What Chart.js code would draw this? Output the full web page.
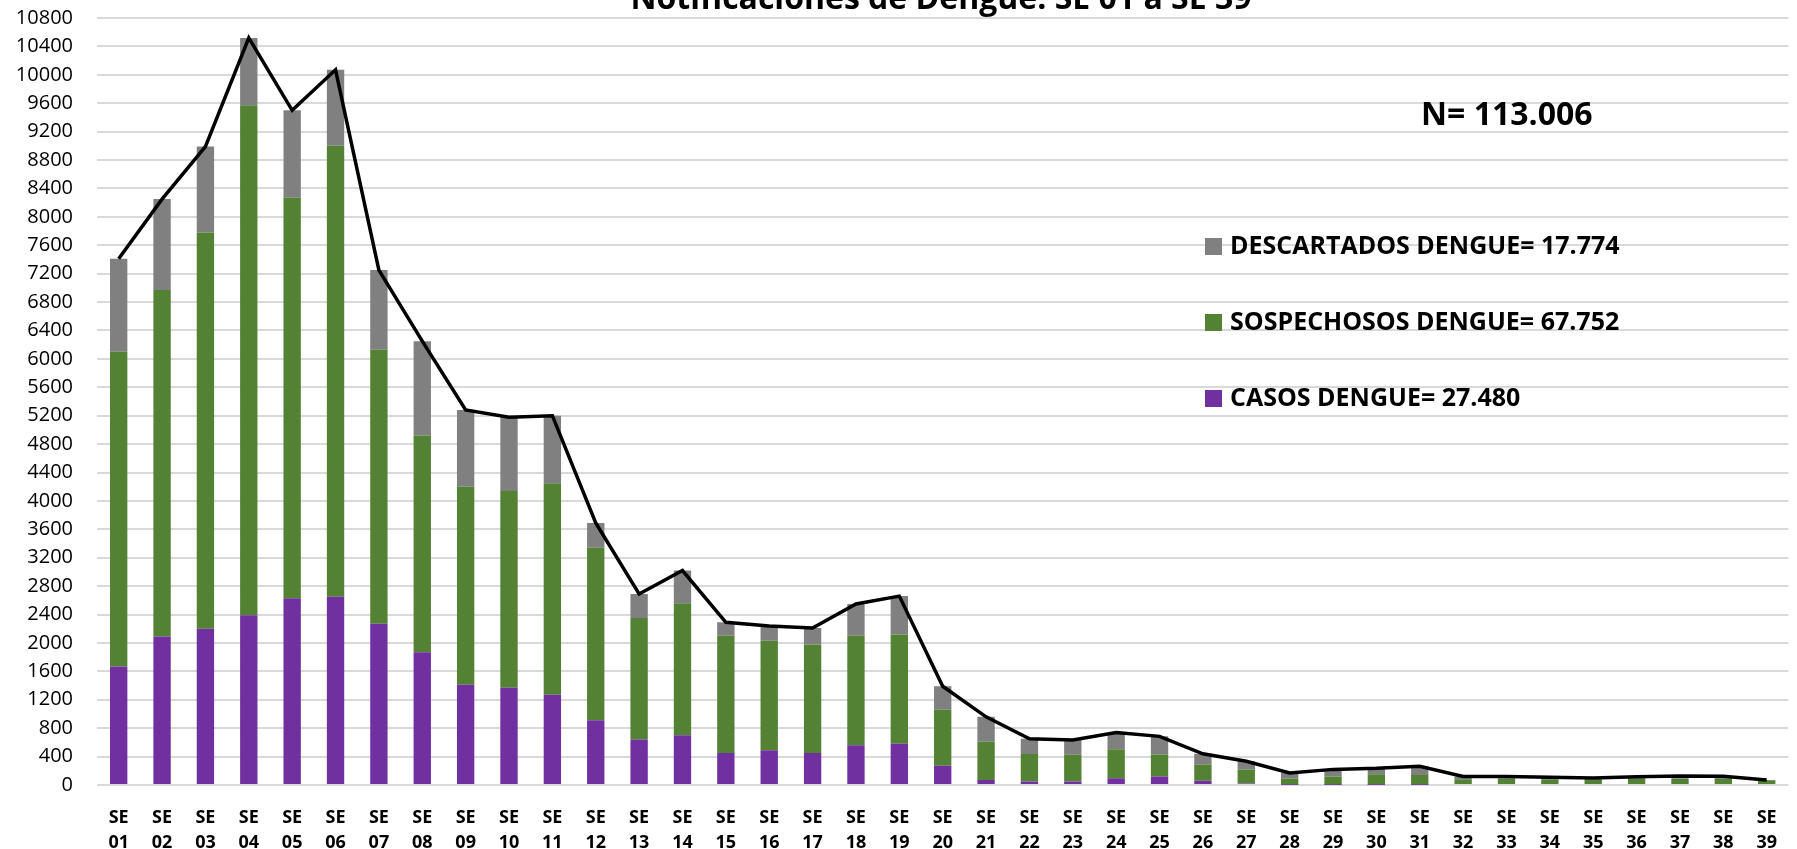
<!DOCTYPE html>
<html>
<head>
<meta charset="utf-8">
<script src="https://cdn.jsdelivr.net/npm/chart.js@4/dist/chart.umd.min.js"></script>
<style>
  html, body { margin: 0; padding: 0; background: #fff; }
  #wrap { position: relative; width: 1797px; height: 849px; }
</style>
</head>
<body>
<div id="wrap"><canvas id="dengueChart"></canvas></div>
<script>
// Semanas epidemiologicas SE 01 .. SE 39
const weeks = ['01','02','03','04','05','06','07','08','09','10','11','12','13','14','15','16','17','18','19','20',
               '21','22','23','24','25','26','27','28','29','30','31','32','33','34','35','36','37','38','39'];

// values
const casos = [1670, 2090, 2200, 2390, 2630, 2650, 2270, 1870, 1410, 1370, 1270, 910, 640, 700, 450, 490, 450, 560, 580, 270,
               70, 50, 50, 95, 120, 60, 20, 5, 5, 5, 5, 0, 0, 0, 0, 0, 0, 0, 0];
const sospechosos = [4430, 4880, 5580, 7180, 5640, 6350, 3860, 3050, 2790, 2770, 2980, 2430, 1710, 1860, 1650, 1540, 1530, 1540, 1540, 790,
                     540, 385, 375, 410, 310, 225, 200, 85, 115, 145, 135, 80, 88, 80, 80, 85, 90, 85, 66];
const descartados = [1310, 1280, 1210, 950, 1230, 1070, 1120, 1330, 1080, 1040, 950, 350, 340, 460, 190, 210, 230, 450, 540, 330,
                     350, 215, 210, 235, 255, 155, 115, 80, 100, 85, 125, 40, 30, 30, 20, 30, 38, 37, 5];

const legendTexts = ['CASOS DENGUE= 27.480', 'SOSPECHOSOS DENGUE= 67.752', 'DESCARTADOS DENGUE= 17.774'];
const titleText = 'Notificaciones de Dengue: SE 01 a SE 39';
const nText = 'N= 113.006';

const colors = ['#7030A0', '#548235', '#808080'];

// total notifications per week (line on top of the stacks)
const totals = weeks.map(function (w, i) { return casos[i] + sospechosos[i] + descartados[i]; });

const FONT = '"Open Sans", "Noto Sans", sans-serif';

// title (cut at the top), N= and the legend inside the plot
const overlayPlugin = {
    id: 'overlay',
    afterDraw(chart) {
        const ctx = chart.ctx;
        ctx.save();
        ctx.fillStyle = '#000';
        ctx.textBaseline = 'alphabetic';
        ctx.textAlign = 'center';
        ctx.font = 'bold 32px ' + FONT;
        ctx.fillText(titleText, 941, 9);

        ctx.textAlign = 'left';
        ctx.textBaseline = 'middle';
        ctx.font = 'bold 32px ' + FONT;
        ctx.fillText(nText, 1421, 116);

        // legend, top to bottom: descartados, sospechosos, casos
        const rows = [2, 1, 0];
        ctx.font = 'bold 25px ' + FONT;
        rows.forEach(function (di, r) {
            const ds = chart.data.datasets[di];
            const y = 246 + r * 76;
            ctx.fillStyle = ds.backgroundColor;
            ctx.fillRect(1205, y - 8, 17, 17);
            ctx.fillStyle = '#000';
            ctx.fillText(ds.label, 1230, y + 1);
        });
        ctx.restore();
    }
};

const ctx = document.getElementById('dengueChart').getContext('2d');
new Chart(ctx, {
    type: 'bar',
    data: {
        labels: weeks.map(function (w) { return ['SE', w]; }),
        datasets: [{
            label: legendTexts[0],
            data: casos,
            backgroundColor: colors[0],
            order: 1
        }, {
            label: legendTexts[1],
            data: sospechosos,
            backgroundColor: colors[1],
            order: 1
        }, {
            label: legendTexts[2],
            data: descartados,
            backgroundColor: colors[2],
            order: 1
        }, {
            type: 'line',
            label: 'Total',
            data: totals,
            borderColor: '#000',
            borderWidth: 3.5,
            pointRadius: 0,
            tension: 0,
            fill: false,
            stack: 'total',
            order: 0
        }]
    },
    options: {
        responsive: true,
        maintainAspectRatio: false,
        animation: false,
        layout: { padding: { top: 18, right: 0, bottom: 0, left: 0 } },
        datasets: {
            bar: { barPercentage: 0.4, categoryPercentage: 1.0 }
        },
        plugins: {
            legend: { display: false },
            title: { display: false },
            tooltip: { enabled: false }
        },
        scales: {
            x: {
                stacked: true,
                grid: { display: false, drawTicks: false },
                border: { display: false },
                ticks: {
                    color: '#000',
                    font: { family: FONT, size: 18, weight: 'bold', lineHeight: 1.39 },
                    padding: 20,
                    maxRotation: 0,
                    autoSkip: false
                },
                afterFit(scale) { scale.height = 64; }
            },
            y: {
                stacked: true,
                min: 0,
                max: 10800,
                grid: { color: '#d9d9d9', lineWidth: 2, drawTicks: true, tickLength: 18, tickColor: 'rgba(0,0,0,0)' },
                border: { display: false },
                ticks: {
                    stepSize: 400,
                    color: '#000',
                    font: { family: FONT, size: 20 },
                    padding: 6,
                    callback: function (v) { return String(v); }
                },
                afterFit(scale) { scale.width = 97; }
            }
        }
    },
    plugins: [overlayPlugin]
});
</script>
</body>
</html>
